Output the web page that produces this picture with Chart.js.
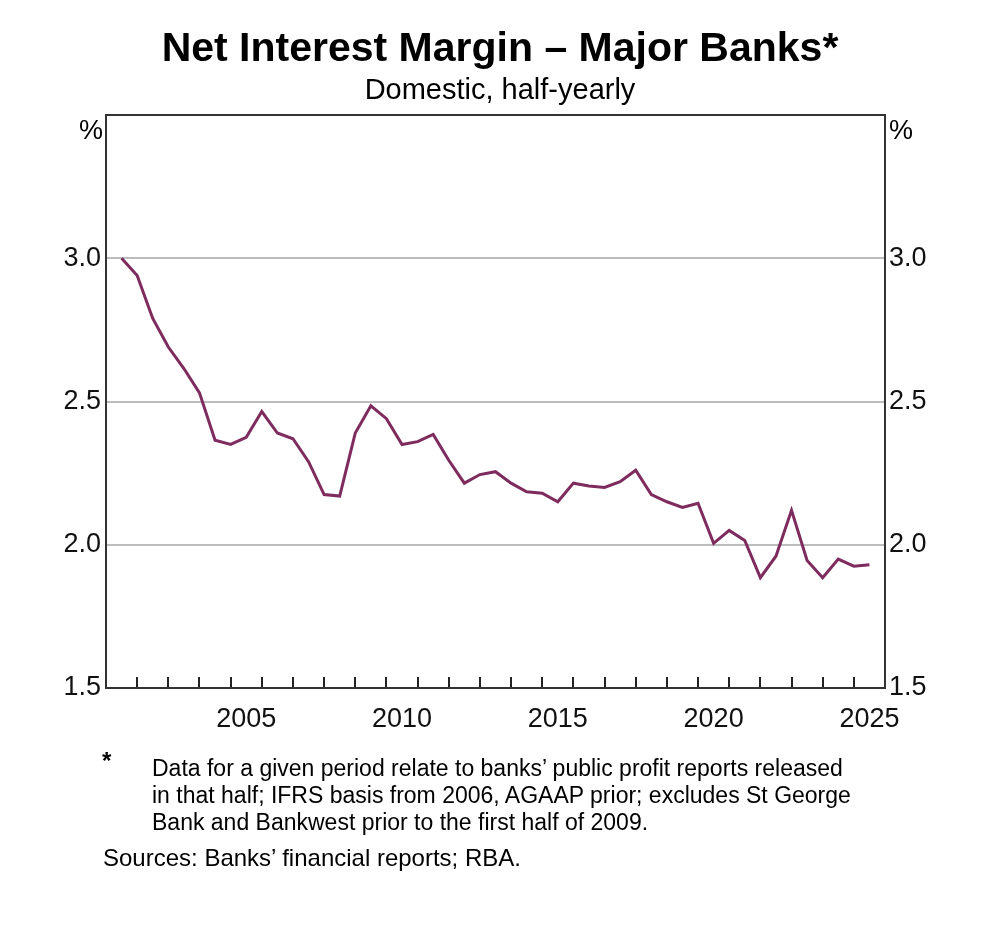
<!DOCTYPE html>
<html>
<head>
<meta charset="utf-8">
<script src="https://cdn.jsdelivr.net/npm/chart.js@4.4.0/dist/chart.umd.min.js"></script>
<style>
  html, body { margin:0; padding:0; background:#fff; }
  body { width:1000px; height:926px; position:relative; overflow:hidden; font-family:"Liberation Sans", Arial, sans-serif; color:#000; }
  #c { position:absolute; left:0; top:0; }
  .t { position:absolute; white-space:nowrap; line-height:1; }
</style>
</head>
<body>
<canvas id="c" width="1000" height="926"></canvas>
<div class="t" id="title" style="left:0;width:1000px;text-align:center;top:27px;font-size:41px;font-weight:bold;">Net Interest Margin – Major Banks*</div>
<div class="t" id="sub" style="left:0;width:1000px;text-align:center;top:75px;font-size:29px;">Domestic, half-yearly</div>
<div class="t" style="left:79px;top:117px;font-size:27px;">%</div>
<div class="t" style="left:889px;top:117px;font-size:27px;">%</div>
<div class="t" style="left:102px;top:749px;font-size:24px;font-weight:bold;">*</div>
<div class="t" id="fn" style="left:152px;top:755px;font-size:23px;line-height:27px;">Data for a given period relate to banks’ public profit reports released<br>in that half; IFRS basis from 2006, AGAAP prior; excludes St George<br>Bank and Bankwest prior to the first half of 2009.</div>
<div class="t" style="left:103px;top:846px;font-size:24px;">Sources: Banks’ financial reports; RBA.</div>
<script>
const periods = [
  '2001-H1','2001-H2','2002-H1','2002-H2','2003-H1','2003-H2','2004-H1','2004-H2',
  '2005-H1','2005-H2','2006-H1','2006-H2','2007-H1','2007-H2','2008-H1','2008-H2',
  '2009-H1','2009-H2','2010-H1','2010-H2','2011-H1','2011-H2','2012-H1','2012-H2',
  '2013-H1','2013-H2','2014-H1','2014-H2','2015-H1','2015-H2','2016-H1','2016-H2',
  '2017-H1','2017-H2','2018-H1','2018-H2','2019-H1','2019-H2','2020-H1','2020-H2',
  '2021-H1','2021-H2','2022-H1','2022-H2','2023-H1','2023-H2','2024-H1','2024-H2',
  '2025-H1'
];
const nimValues = [
  3.00, 2.94, 2.79, 2.69, 2.615, 2.53, 2.365, 2.35,
  2.375, 2.465, 2.39, 2.37, 2.29, 2.175, 2.17, 2.39,
  2.485, 2.44, 2.35, 2.36, 2.385, 2.295, 2.215, 2.245,
  2.255, 2.215, 2.185, 2.18, 2.15, 2.215, 2.205, 2.20,
  2.22, 2.26, 2.175, 2.15, 2.13, 2.145, 2.005, 2.05,
  2.015, 1.885, 1.96, 2.12, 1.945, 1.885, 1.95, 1.925,
  1.93
];
const yTickValues = [1.5, 2.0, 2.5, 3.0, 3.5];
const yTickLabels = ['1.5', '2.0', '2.5', '3.0', ''];
const xLabelYears = [2005, 2010, 2015, 2020, 2025];
const xMin = 2001, xMax = 2026;

// period end position on a continuous year axis
function periodToX(p) {
  const y = parseInt(p.slice(0, 4), 10);
  return p.endsWith('H1') ? y + 0.5 : y + 1.0;
}
const points = periods.map((p, i) => ({ x: periodToX(p), y: nimValues[i] }));

const FONT = '"Liberation Sans", Arial, sans-serif';
const LINE = '#7e2b5e';

const framePlugin = {
  id: 'frame',
  afterDraw(chart) {
    const { ctx, chartArea: a, scales } = chart;
    const xs = scales.x;
    ctx.save();
    ctx.strokeStyle = '#222';
    ctx.lineWidth = 2;
    ctx.beginPath();
    for (let yr = xMin + 1; yr < xMax; yr++) {
      const px = Math.round(xs.getPixelForValue(yr));
      ctx.moveTo(px, a.bottom);
      ctx.lineTo(px, a.bottom - 11);
    }
    ctx.stroke();
    ctx.strokeStyle = '#333';
    ctx.lineWidth = 2;
    ctx.strokeRect(a.left, a.top, a.right - a.left, a.bottom - a.top);
    ctx.restore();
  }
};

const yTicksCommon = {
  font: { family: FONT, size: 27 },
  color: '#111',
  callback: (v) => {
    const i = yTickValues.findIndex(t => Math.abs(t - v) < 1e-6);
    return i >= 0 ? yTickLabels[i] : '';
  }
};

new Chart(document.getElementById('c'), {
  type: 'line',
  data: {
    datasets: [{
      data: points,
      borderColor: LINE,
      borderWidth: 3,
      pointRadius: 0,
      tension: 0,
      fill: false
    }]
  },
  options: {
    responsive: false,
    animation: false,
    devicePixelRatio: 1,
    layout: { padding: { top: 115, left: 0, right: 0, bottom: 0 } },
    plugins: { legend: { display: false }, tooltip: { enabled: false }, title: { display: false } },
    scales: {
      x: {
        type: 'linear',
        min: xMin, max: xMax,
        afterBuildTicks: (s) => { s.ticks = xLabelYears.map(y => ({ value: y + 0.5 })); },
        afterFit: (s) => { s.height = 238; },
        ticks: {
          font: { family: FONT, size: 27 },
          color: '#111',
          padding: 15,
          maxRotation: 0,
          autoSkip: false,
          callback: (v) => String(Math.floor(v))
        },
        grid: { display: false, drawTicks: false },
        border: { display: false }
      },
      y: {
        position: 'left',
        min: 1.5, max: 3.5,
        afterBuildTicks: (s) => { s.ticks = yTickValues.map(v => ({ value: v })); },
        afterFit: (s) => { s.width = 106; },
        ticks: Object.assign({ padding: 5 }, yTicksCommon),
        grid: {
          drawTicks: false,
          lineWidth: 2,
          color: (c) => (c.tick && (c.tick.value === 1.5 || c.tick.value === 3.5)) ? 'rgba(0,0,0,0)' : '#bdbdbd'
        },
        border: { display: false }
      },
      y2: {
        position: 'right',
        min: 1.5, max: 3.5,
        afterBuildTicks: (s) => { s.ticks = yTickValues.map(v => ({ value: v })); },
        afterFit: (s) => { s.width = 115; },
        ticks: Object.assign({ padding: 4 }, yTicksCommon),
        grid: { display: false, drawTicks: false },
        border: { display: false }
      }
    }
  },
  plugins: [framePlugin]
});
</script>
</body>
</html>
